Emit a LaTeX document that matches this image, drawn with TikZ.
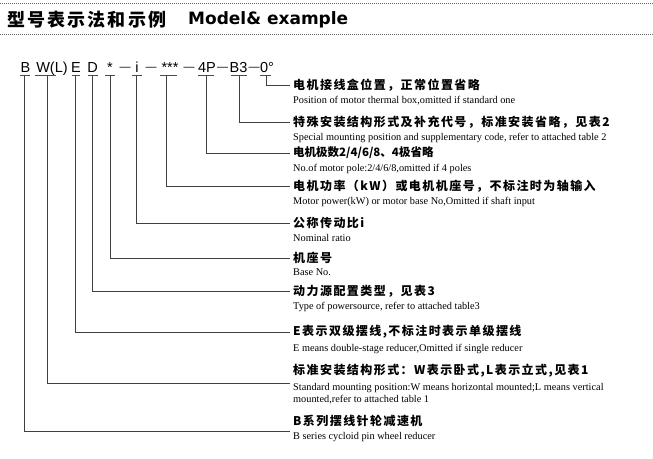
\documentclass[tikz,border=0pt]{standalone}
\usepackage{fontspec}
\setmainfont{Liberation Serif}
\newfontfamily\cjkfont{Noto Sans CJK SC}[LetterSpace=12]
\newfontfamily\cjktight{Noto Sans CJK SC}
\newfontfamily\codefont{Liberation Sans}
\newfontfamily\headfont{DejaVu Sans}
\usetikzlibrary{positioning}
\tikzset{
    code/.style={font=\codefont\fontsize{14.5}{16}\selectfont, inner sep=0pt, anchor=base},
    codedash/.style={font=\codefont\fontsize{11}{12}\selectfont, inner sep=0pt, anchor=base},
    zh/.style={font=\cjkfont\bfseries\fontsize{12}{14}\selectfont, anchor=west, inner xsep=3pt, inner ysep=0pt},
    zhtight/.style={zh, font=\cjktight\bfseries\fontsize{11.5}{13}\selectfont},
    en/.style={font=\fontsize{10.3}{12.3}\selectfont, inner sep=0pt, align=left},
    lead/.style={black!75, line width=0.7pt},
    uline/.style={black!70, line width=0.6pt},
    dotline/.style={black!60, line width=0.8pt, dash pattern=on 0.8pt off 1.2pt}
}

\begin{document}
\begin{tikzpicture}[x=1pt, y=-1pt]
        \useasboundingbox (0,0) rectangle (653,458);
        % heading
        \draw [dotline] (0,3) -- (653,3);
        \draw [dotline] (0,34) -- (653,34);
        \node[font=\cjkfont\bfseries\fontsize{18}{20}\selectfont, anchor=west, inner sep=0pt] (headzh) at (7,20) {型号表示法和示例};
        \node[font=\headfont\bfseries\fontsize{17}{20}\selectfont, anchor=west, inner sep=0pt] (headen) at (188,20) {Model\& example};
        % code letters, underlines and feet of the leaders
        \foreach \n/\t/\cx/\a/\b/\v in {1/B/25.5/20/30/24, 2/W(L)/52/35/56/47.5, 3/E/76/72/80/75, 4/D/92.5/88/98/92, 5/*/110/105/115/110, 6/i/137/132/142/136.5, 7/***/170/160/177/166, 8/4P/207/198/214/206.5, 9/B3/238.5/231/247/239, 10/0°/267/260/271/266.5} {
            \node[code] (c\n) at (\cx,72) {\t};
            \draw [uline] (\a,75) -- (\b,75);
            \coordinate (v\n) at (\v,75);
        }
        \foreach \x [count=\k] in {125,151,189,222.5,254} {
            \node[codedash] (d\k) at (\x,70) {—};
        }
        % labels
        \node[zh] (zh10) at (290,85) {电机接线盒位置，正常位置省略};
        \node[en, below right=5pt and 3pt of zh10.south west, anchor=north west] (en10) {Position of motor thermal box,omitted if standard one};
        \node[zh] (zh9) at (290,122) {特殊安装结构形式及补充代号，标准安装省略，见表2};
        \node[en, below right=5pt and 3pt of zh9.south west, anchor=north west] (en9) {Special mounting position and supplementary code, refer to attached table 2};
        \node[zhtight] (zh8) at (290,153) {电机极数2/4/6/8、4极省略};
        \node[en, below right=5pt and 3pt of zh8.south west, anchor=north west] (en8) {No.of motor pole:2/4/6/8,omitted if 4 poles};
        \node[zh] (zh7) at (290,186) {电机功率（kW）或电机机座号，不标注时为轴输入};
        \node[en, below right=5pt and 3pt of zh7.south west, anchor=north west] (en7) {Motor power(kW) or motor base No,Omitted if shaft input};
        \node[zh] (zh6) at (290,223) {公称传动比i};
        \node[en, below right=5pt and 3pt of zh6.south west, anchor=north west] (en6) {Nominal ratio};
        \node[zh] (zh5) at (290,258) {机座号};
        \node[en, below right=5pt and 3pt of zh5.south west, anchor=north west] (en5) {Base No.};
        \node[zh] (zh4) at (290,291) {动力源配置类型，见表3};
        \node[en, below right=5pt and 3pt of zh4.south west, anchor=north west] (en4) {Type of powersource, refer to attached table3};
        \node[zh] (zh3) at (290,332) {E表示双级摆线,不标注时表示单级摆线};
        \node[en, below right=5pt and 3pt of zh3.south west, anchor=north west] (en3) {E means double-stage reducer,Omitted if single reducer};
        \node[zh] (zh2) at (290,371) {标准安装结构形式：W表示卧式,L表示立式,见表1};
        \node[en, below right=5pt and 3pt of zh2.south west, anchor=north west] (en2) {Standard mounting position:W means horizontal mounted;L means vertical\\mounted,refer to attached table 1};
        \node[zh] (zh1) at (290,421) {B系列摆线针轮减速机};
        \node[en, below right=5pt and 3pt of zh1.south west, anchor=north west] (en1) {B series cycloid pin wheel reducer};
        % leaders
        \foreach \n in {3,...,10} {
            \draw [lead] (v\n) |- (zh\n.west);
        }
        \coordinate (e2) at (290,383);
        \coordinate (e1) at (290,431);
        \draw [lead] (v2) |- (e2); % W(L)
        \draw [lead] (v1) |- (e1); % B
    \end{tikzpicture}
\end{document}
